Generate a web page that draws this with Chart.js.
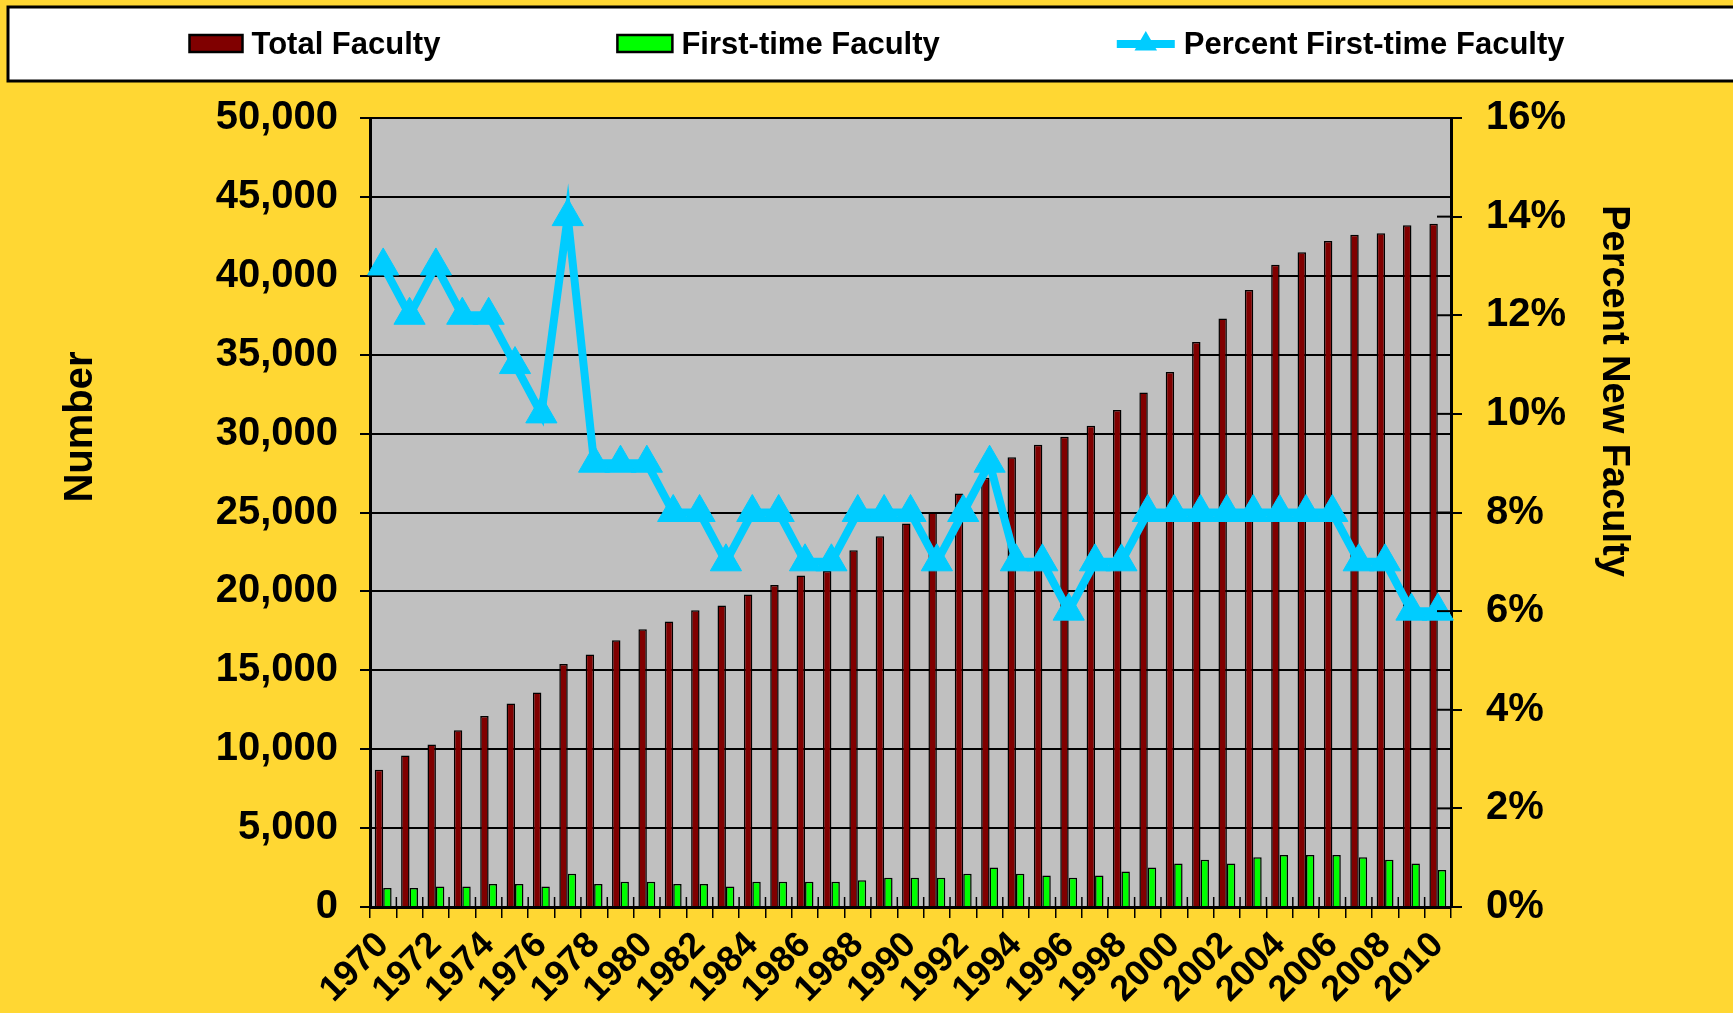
<!DOCTYPE html>
<html>
<head>
<meta charset="utf-8">
<script src="https://cdn.jsdelivr.net/npm/chart.js@4/dist/chart.umd.min.js"></script>
<style>
  html, body { margin: 0; padding: 0; background: #FFD733; }
  #wrap { width: 1733px; height: 1013px; position: relative; }
</style>
</head>
<body>
<div id="wrap"><canvas id="facultyChart"></canvas></div>
<script>
const years = ['1970','1971','1972','1973','1974','1975','1976','1977','1978','1979',
  '1980','1981','1982','1983','1984','1985','1986','1987','1988','1989',
  '1990','1991','1992','1993','1994','1995','1996','1997','1998','1999',
  '2000','2001','2002','2003','2004','2005','2006','2007','2008','2009','2010'];

const totalFaculty = [8700, 9600, 10300, 11200, 12100, 12900, 13600, 15400, 16000, 16900,
  17600, 18100, 18800, 19100, 19800, 20400, 21000, 21300, 22600, 23500,
  24300, 25000, 26200, 27200, 28500, 29300, 29800, 30500, 31500, 32600,
  33900, 35800, 37300, 39100, 40700, 41500, 42200, 42600, 42700, 43200, 43300];

const firstTimeFaculty = [1200, 1200, 1300, 1300, 1450, 1450, 1300, 2100, 1450, 1600,
  1600, 1450, 1450, 1300, 1600, 1600, 1600, 1600, 1700, 1850,
  1850, 1850, 2100, 2500, 2100, 2000, 1850, 2000, 2250, 2500,
  2750, 3000, 2750, 3150, 3300, 3300, 3300, 3150, 3000, 2750, 2350];

const percentFirstTime = [13, 12, 13, 12, 12, 11, 10, 14, 9, 9,
  9, 8, 8, 7, 8, 8, 7, 7, 8, 8,
  8, 7, 8, 9, 7, 7, 6, 7, 7, 8,
  8, 8, 8, 8, 8, 8, 8, 7, 7, 6, 6];

const FONT = '"Liberation Sans", Arial, sans-serif';
const YELLOW = '#FFD733';
const PLOT_GRAY = '#C0C0C0';
const RED = '#800000';
const GREEN = '#00FF00';
const CYAN = '#00CCFF';

Chart.defaults.font.family = FONT;
Chart.defaults.font.weight = 'bold';
Chart.defaults.color = '#000';

// grauer Plotbereich hinter den Balken
const plotBackground = {
  id: 'plotBackground',
  beforeDraw(chart) {
    const { ctx, chartArea: a } = chart;
    ctx.save();
    ctx.fillStyle = PLOT_GRAY;
    ctx.fillRect(a.left, a.top, a.right - a.left, a.bottom - a.top);
    ctx.restore();
  }
};

// Achsentitel frei positioniert (wie im Original nicht mittig)
const axisTitles = {
  id: 'axisTitles',
  afterDraw(chart) {
    const ctx = chart.ctx;
    ctx.save();
    ctx.fillStyle = '#000';
    ctx.textAlign = 'center';
    ctx.textBaseline = 'middle';
    ctx.font = 'bold 40px ' + FONT;
    ctx.translate(81, 427);
    ctx.rotate(-Math.PI / 2);
    ctx.fillText('Number', 0, 0);
    ctx.restore();

    ctx.save();
    ctx.fillStyle = '#000';
    ctx.textAlign = 'center';
    ctx.textBaseline = 'middle';
    ctx.font = 'bold 38px ' + FONT;
    ctx.translate(1613, 391);
    ctx.rotate(Math.PI / 2);
    ctx.fillText('Percent New Faculty', 0, 0);
    ctx.restore();
  }
};

// kurze Teilstriche nach innen (x-Achse und rechte Achse)
const innerTicks = {
  id: 'innerTicks',
  afterDatasetsDraw(chart) {
    const { ctx, chartArea: a, scales } = chart;
    ctx.save();
    ctx.strokeStyle = '#000';
    ctx.lineWidth = 1.5;
    const n = years.length;
    const step = (a.right - a.left) / n;
    for (let i = 1; i < n; i++) {
      const x = a.left + i * step;
      ctx.beginPath();
      ctx.moveTo(x, a.bottom - 10);
      ctx.lineTo(x, a.bottom);
      ctx.stroke();
    }
    ctx.lineWidth = 2;
    scales.y1.ticks.forEach(t => {
      const y = scales.y1.getPixelForValue(t.value);
      ctx.beginPath();
      ctx.moveTo(a.right - 14, y);
      ctx.lineTo(a.right, y);
      ctx.stroke();
    });
    ctx.restore();
  }
};

// Legende im weissen Kasten oben
const boxLegend = {
  id: 'boxLegend',
  afterDraw(chart) {
    const ctx = chart.ctx;
    const ds = chart.data.datasets;
    ctx.save();
    ctx.fillStyle = '#fff';
    ctx.fillRect(8, 7, 1740, 74);
    ctx.strokeStyle = '#000';
    ctx.lineWidth = 3;
    ctx.strokeRect(8, 7, 1740, 74);

    ctx.font = 'bold 31px ' + FONT;
    ctx.textBaseline = 'middle';
    const symW = [53, 55, 58];
    const gapSym = 9, gapItem = 177;
    const order = [1, 2, 0]; // Total, First-time, Percent
    const widths = order.map((d, k) => symW[k] + gapSym + ctx.measureText(ds[d].label).width);
    const total = widths.reduce((s, w) => s + w, 0) + gapItem * (widths.length - 1);
    let x = 877 - total / 2;
    const yc = 44;
    order.forEach((d, k) => {
      const set = ds[d];
      if (set.type === 'line') {
        ctx.strokeStyle = set.borderColor;
        ctx.lineWidth = 8;
        ctx.beginPath();
        ctx.moveTo(x, yc);
        ctx.lineTo(x + symW[k], yc);
        ctx.stroke();
        const cx = x + symW[k] / 2, r = 13;
        ctx.fillStyle = set.borderColor;
        ctx.beginPath();
        ctx.moveTo(cx, yc - r);
        ctx.lineTo(cx + r * 0.866, yc + r / 2);
        ctx.lineTo(cx - r * 0.866, yc + r / 2);
        ctx.closePath();
        ctx.fill();
      } else {
        ctx.fillStyle = set.backgroundColor;
        ctx.fillRect(x, yc - 9, symW[k], 17);
        ctx.strokeStyle = '#000';
        ctx.lineWidth = 2.5;
        ctx.strokeRect(x, yc - 9, symW[k], 17);
      }
      ctx.fillStyle = '#000';
      ctx.textAlign = 'left';
      ctx.fillText(set.label, x + symW[k] + gapSym, yc + 1);
      x += widths[k] + gapItem;
    });
    ctx.restore();
  }
};

const ctx = document.getElementById('facultyChart').getContext('2d');
const facultyChart = new Chart(ctx, {
  type: 'bar',
  data: {
    labels: years,
    datasets: [
      {
        type: 'line', label: 'Percent First-time Faculty', data: percentFirstTime,
        yAxisID: 'y1', order: 0,
        borderColor: CYAN, backgroundColor: CYAN, borderWidth: 8, tension: 0,
        pointStyle: 'triangle', pointRadius: 18, pointHoverRadius: 18,
        pointBackgroundColor: CYAN, pointBorderColor: CYAN, pointBorderWidth: 1
      },
      {
        label: 'Total Faculty', data: totalFaculty, yAxisID: 'y', order: 1,
        backgroundColor: RED, borderColor: '#000', borderWidth: 1.5,
        categoryPercentage: 0.64, barPercentage: 1.0
      },
      {
        label: 'First-time Faculty', data: firstTimeFaculty, yAxisID: 'y', order: 1,
        backgroundColor: GREEN, borderColor: '#000', borderWidth: 1.5,
        categoryPercentage: 0.64, barPercentage: 1.0
      }
    ]
  },
  options: {
    responsive: true,
    maintainAspectRatio: false,
    animation: false,
    layout: { padding: { top: 118, left: 0, right: 0, bottom: 0 } },
    plugins: {
      legend: { display: false },
      tooltip: { enabled: false }
    },
    scales: {
      x: {
        offset: true,
        grid: { display: true, drawOnChartArea: false, color: '#000', lineWidth: 1.5, tickLength: 11, offset: true },
        border: { color: '#000', width: 3 },
        ticks: {
          autoSkip: false, maxRotation: 45, minRotation: 45, padding: 6,
          font: { size: 36, weight: 'bold' },
          callback: function (v, i) { return i % 2 === 0 ? this.getLabelForValue(v) : ''; }
        },
        afterFit: (s) => { s.height = 106; }
      },
      y: {
        position: 'left', min: 0, max: 50000,
        grid: { color: '#000', lineWidth: 2, tickLength: 10 },
        border: { color: '#000', width: 3 },
        ticks: {
          stepSize: 5000, padding: 22,
          font: { size: 40, weight: 'bold' },
          callback: (v) => v.toLocaleString('en-US')
        },
        afterFit: (s) => { s.width = 370; }
      },
      y1: {
        position: 'right', min: 0, max: 16,
        grid: { drawOnChartArea: false, color: '#000', lineWidth: 2, tickLength: 11 },
        border: { color: '#000', width: 3 },
        ticks: {
          stepSize: 2, padding: 24,
          font: { size: 40, weight: 'bold' },
          callback: (v) => v + '%'
        },
        afterFit: (s) => { s.width = 282; }
      }
    }
  },
  plugins: [plotBackground, innerTicks, axisTitles, boxLegend]
});
</script>
</body>
</html>
